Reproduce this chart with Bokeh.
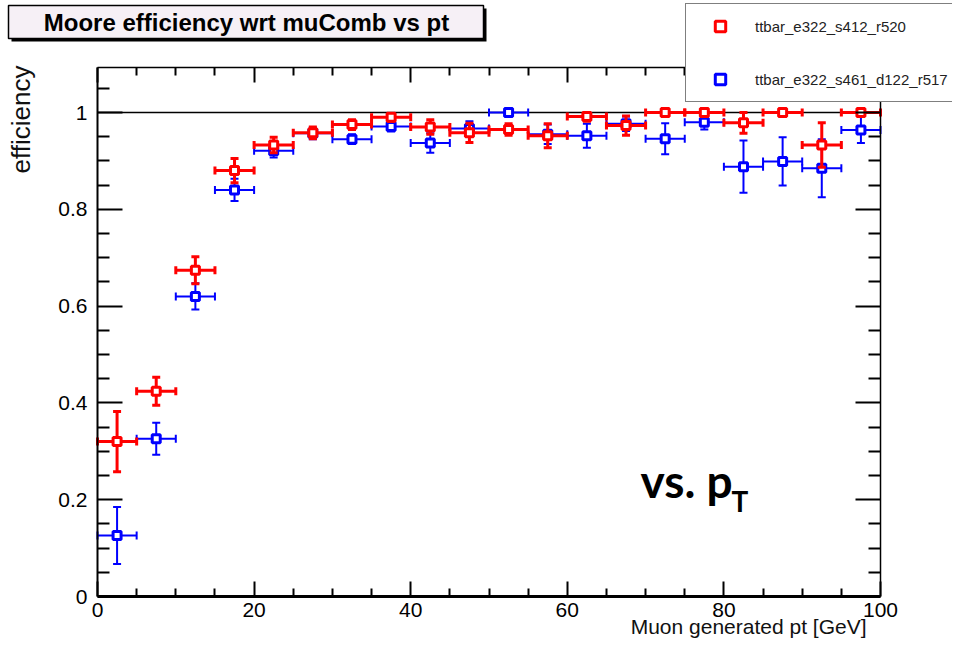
import math
from bokeh.plotting import figure
from bokeh.models import (ColumnDataSource, FixedTicker, LinearAxis, Label, Range1d,
                          BoxAnnotation, Legend, LegendItem)
from bokeh.embed import file_html
from bokeh.resources import INLINE

# ---------------- data ----------------
pt_center = [2.5, 7.5, 12.5, 17.5, 22.5, 27.5, 32.5, 37.5, 42.5, 47.5,
             52.5, 57.5, 62.5, 67.5, 72.5, 77.5, 82.5, 87.5, 92.5, 97.5]
pt_low = [0, 5, 10, 15, 20, 25, 30, 35, 40, 45, 50, 55, 60, 65, 70, 75, 80, 85, 90, 95]
pt_high = [5, 10, 15, 20, 25, 30, 35, 40, 45, 50, 55, 60, 65, 70, 75, 80, 85, 90, 95, 100]

red_label = "ttbar_e322_s412_r520"
red_eff = [0.320, 0.424, 0.674, 0.880, 0.933, 0.958, 0.975, 0.990, 0.970, 0.958,
           0.965, 0.952, 0.992, 0.973, 1.000, 1.000, 0.979, 1.000, 0.933, 1.000]
red_err_lo = [0.062, 0.029, 0.028, 0.025, 0.016, 0.012, 0.010, 0.008, 0.015, 0.020,
              0.012, 0.025, 0.010, 0.020, 0.005, 0.005, 0.022, 0.005, 0.046, 0.005]
red_err_hi = [0.062, 0.029, 0.028, 0.025, 0.016, 0.012, 0.010, 0.008, 0.015, 0.020,
              0.012, 0.025, 0.008, 0.020, 0.000, 0.000, 0.021, 0.000, 0.046, 0.000]

blue_label = "ttbar_e322_s461_d122_r517"
blue_eff = [0.126, 0.326, 0.620, 0.840, 0.921, 0.957, 0.945, 0.971, 0.937, 0.967,
            1.000, 0.955, 0.952, 0.977, 0.946, 0.980, 0.888, 0.899, 0.885, 0.964]
blue_err_lo = [0.059, 0.033, 0.027, 0.023, 0.014, 0.012, 0.010, 0.010, 0.020, 0.015,
               0.005, 0.020, 0.025, 0.015, 0.032, 0.015, 0.054, 0.050, 0.060, 0.027]
blue_err_hi = [0.059, 0.033, 0.027, 0.023, 0.014, 0.012, 0.010, 0.010, 0.020, 0.015,
               0.000, 0.020, 0.025, 0.015, 0.032, 0.015, 0.054, 0.050, 0.060, 0.027]

x_lim = [0, 100]
y_lim = [0, 1.093]
x_ticks = [0, 20, 40, 60, 80, 100]
x_tick_labels = ["0", "20", "40", "60", "80", "100"]
x_minor = [5, 10, 15, 25, 30, 35, 45, 50, 55, 65, 70, 75, 85, 90, 95]
y_ticks = [0, 0.2, 0.4, 0.6, 0.8, 1.0]
y_tick_labels = ["0", "0.2", "0.4", "0.6", "0.8", "1"]
y_minor = [0.05, 0.1, 0.15, 0.25, 0.3, 0.35, 0.45, 0.5, 0.55, 0.65, 0.7, 0.75,
           0.85, 0.9, 0.95, 1.05]
ref_level = 1.0

title_text = "Moore efficiency wrt muComb vs pt"
x_title = "Muon generated pt [GeV]"
y_title = "efficiency"

FONT = "Liberation Sans"

# ---------------- geometry helpers (canvas pixels -> data) ----------------
W, H = 952, 641
FRAME_L, FRAME_R, FRAME_T, FRAME_B = 97, 880, 67, 596   # canvas pixels of the plot box
kx = (FRAME_R - FRAME_L) / (x_lim[1] - x_lim[0])
ky = (FRAME_B - FRAME_T) / (y_lim[1] - y_lim[0])

def sx(px):
    return x_lim[0] + (px - FRAME_L) / kx

def sy(py):
    return y_lim[0] + (FRAME_B - py) / ky

p = figure(width=W, height=H,
           x_range=Range1d(sx(0), sx(W)), y_range=Range1d(sy(H), sy(0)),
           output_backend="svg", toolbar_location=None, title=None,
           min_border=0, x_axis_type=None, y_axis_type=None)
p.xgrid.visible = False
p.ygrid.visible = False
p.outline_line_color = None
p.background_fill_color = "white"
p.border_fill_color = "white"

def make_axis(ticks, minor, labels, major_len, minor_len, lw, show_labels, standoff,
              loc, bounds):
    ax = LinearAxis(fixed_location=loc, bounds=tuple(bounds))
    ax.ticker = FixedTicker(ticks=ticks, minor_ticks=minor)
    ax.axis_line_width = lw
    ax.axis_line_color = "black"
    ax.major_tick_in = major_len
    ax.major_tick_out = 0
    ax.minor_tick_in = minor_len
    ax.minor_tick_out = 0
    ax.major_tick_line_width = 2
    ax.minor_tick_line_width = 2
    ax.major_tick_line_color = "black"
    ax.minor_tick_line_color = "black"
    ax.major_label_overrides = {t: l for t, l in zip(ticks, labels)}
    ax.major_label_text_font = FONT
    ax.major_label_text_font_size = "21px"
    ax.major_label_standoff = standoff
    ax.major_label_text_color = "black" if show_labels else None
    return ax

p.add_layout(make_axis(x_ticks, x_minor, x_tick_labels, 15, 8, 3, True, 6,
                       y_lim[0], x_lim), "below")
p.add_layout(make_axis(y_ticks, y_minor, y_tick_labels, 25, 12, 2, True, 10,
                       x_lim[0], y_lim), "left")
p.add_layout(make_axis(x_ticks, x_minor, x_tick_labels, 15, 8, 1.5, False, 4,
                       y_lim[1], x_lim), "above")
p.add_layout(make_axis(y_ticks, y_minor, y_tick_labels, 25, 12, 1.5, False, 4,
                       x_lim[1], y_lim), "right")

# line at efficiency = 1
p.segment(x0=[x_lim[0]], y0=[ref_level], x1=[x_lim[1]], y1=[ref_level],
          line_color="black", line_width=1.5)

# ---------------- series ----------------
def draw_series(eff, err_lo, err_hi, color, lw, cap):
    src = ColumnDataSource(dict(
        x=pt_center, lo=pt_low, hi=pt_high, y=eff,
        ylo=[e - d for e, d in zip(eff, err_lo)],
        yhi=[e + d for e, d in zip(eff, err_hi)],
    ))
    p.segment(x0="lo", y0="y", x1="hi", y1="y", source=src, line_color=color, line_width=lw)
    p.segment(x0="x", y0="ylo", x1="x", y1="yhi", source=src, line_color=color, line_width=lw)
    for xc in ("lo", "hi"):
        p.scatter(x=xc, y="y", source=src, marker="dash", angle=math.pi / 2, size=cap,
                  line_color=color, line_width=lw)
    for yc in ("ylo", "yhi"):
        p.scatter(x="x", y=yc, source=src, marker="dash", size=cap,
                  line_color=color, line_width=lw)
    r = p.scatter(x="x", y="y", source=src, marker="square", size=8,
                  line_color=color, line_width=3, fill_color="white")
    return r

r_blue = draw_series(blue_eff, blue_err_lo, blue_err_hi, "#0000ff", 2, 8)
r_red = draw_series(red_eff, red_err_lo, red_err_hi, "#ff0000", 3, 8)

# ---------------- legend ----------------
legend = Legend(items=[LegendItem(label=red_label, renderers=[r_red]),
                       LegendItem(label=blue_label, renderers=[r_blue])],
                location=(685, H - 102), orientation="vertical")
legend.label_text_font = FONT
legend.label_text_font_size = "15px"
legend.label_text_color = "#222222"
legend.border_line_color = "black"
legend.border_line_width = 1.5
legend.background_fill_color = "white"
legend.background_fill_alpha = 1.0
legend.padding = 9
legend.spacing = 27
legend.label_height = 26
legend.glyph_height = 26
legend.glyph_width = 50
legend.label_standoff = 10
legend.margin = 0
p.add_layout(legend, "center")

# ---------------- title box ----------------
p.add_layout(BoxAnnotation(left=sx(11), right=sx(486), top=sy(8), bottom=sy(41),
                           fill_color="black", fill_alpha=1.0, line_color=None))
p.add_layout(BoxAnnotation(left=sx(8), right=sx(483), top=sy(5), bottom=sy(38),
                           fill_color="#f6f0f6", fill_alpha=1.0, line_color="black",
                           line_width=1.5, line_alpha=1.0))
p.add_layout(Label(x=sx(246), y=sy(22), text=title_text, text_font=FONT,
                   text_font_style="bold", text_font_size="24px", text_align="center",
                   text_baseline="middle", text_color="black"))

# ---------------- axis titles ----------------
p.add_layout(Label(x=sx(866), y=sy(626), text=x_title, text_font=FONT,
                   text_font_size="21px", text_align="right",
                   text_baseline="alphabetic", text_color="#111111"))
p.add_layout(Label(x=sx(5), y=sy(65), text=y_title, text_font=FONT,
                   text_font_size="26px", text_align="right", angle=math.pi / 2,
                   text_baseline="top", text_color="#111111"))

# ---------------- annotation ----------------
p.add_layout(Label(x=sx(640), y=sy(480), text="vs. p", text_font="Lato",
                   text_font_style="bold", text_font_size="46px",
                   text_baseline="alphabetic", text_color="black"))
p.add_layout(Label(x=sx(731), y=sy(500), text="T", text_font="Lato",
                   text_font_style="bold", text_font_size="28px",
                   text_baseline="alphabetic", text_color="black"))

open("out.html", "w").write(file_html(p, INLINE))
